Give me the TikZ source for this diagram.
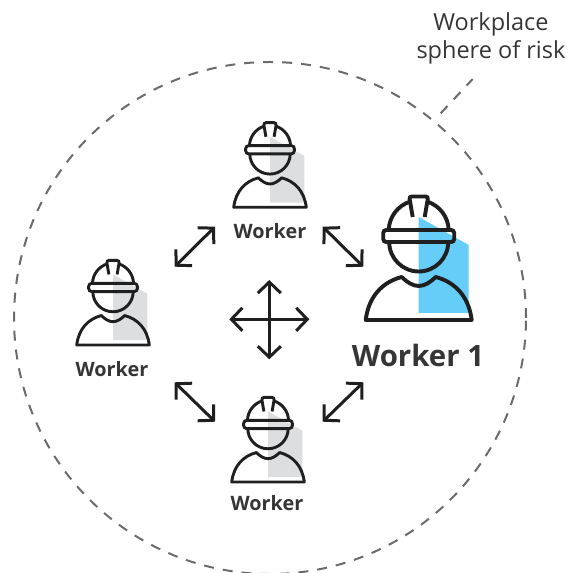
\documentclass[tikz,border=0pt]{standalone}
\usepackage{fontspec}
\setmainfont{Open Sans}
\usepackage{xcolor}
\usetikzlibrary{arrows.meta}
\definecolor{riskblue}{HTML}{66CCF8}
\definecolor{shadegray}{HTML}{DDDEE0}
\definecolor{inkdark}{HTML}{1F1F1F}
\definecolor{riskgray}{HTML}{6B6B6D}
\tikzset{
    pics/worker/.style={code={
        % Sombra
        \fill[#1] (0,103) -- (50,75) -- (50,7) -- (0,7) -- cycle;
        % Ombros
        \draw[line join=round] (-53,0) .. controls (-50,24) and (-36,38) .. (-17,43)
            .. controls (-12,38) and (-6,34) .. (0,34)
            .. controls (6,34) and (12,38) .. (17,43)
            .. controls (36,38) and (50,24) .. (53,0) -- cycle;
        % Cabeca
        \draw (-29.5,78) arc (180:360:29.5);
        % Capacete
        \draw (-30,90) arc (178:108:31);
        \draw (30,90) arc (2:72:31);
        \draw[rounded corners=2.5pt] (-6,103) -- (-9.5,123.5) -- (9.5,123.5) -- (6,103);
        \draw[rounded corners=3pt] (-35.5,78) rectangle (35.5,90);
    }},
    workerlabel/.style={text=inkdark!90, inner sep=0pt},
    link/.style={inkdark, line width=3pt, {Straight Barb[length=11pt,width=23pt,line width=3pt]}-{Straight Barb[length=11pt,width=23pt,line width=3pt]}},
    riskline/.style={riskgray, line width=2pt, dash pattern=on 10pt off 9pt}
}

\begin{document}
\begin{tikzpicture}[x=1pt,y=1pt]
    \useasboundingbox (0,0) rectangle (571,573);
    % Esfera de risco
    \draw[riskline] (270,255) circle (256);
    \coordinate (riskA) at (440.7,459.7);
    \coordinate (riskB) at (472.7,494);
    \draw[riskline] (riskA) -- (riskB);
    \node[text=inkdark!90, align=center, font=\fontsize{23.5}{28}\selectfont, inner sep=0pt] (riskText) at (491,535) {Workplace\\sphere of risk};
    % Trabalhadores
    \pic[scale=1, line width=3.9pt, draw=inkdark] at (418.7,253) {worker=riskblue};
    \pic[scale=.685, line width=2.9pt, draw=inkdark] at (270,365.7) {worker=shadegray};
    \pic[scale=.685, line width=2.9pt, draw=inkdark] at (113,228) {worker=shadegray};
    \pic[scale=.685, line width=2.9pt, draw=inkdark] at (268,91) {worker=shadegray};
    % Legendas
    \node[workerlabel, font=\bfseries\fontsize{29.4}{36}\selectfont] (workerOne) at (418,218) {Worker 1};
    \node[workerlabel, font=\bfseries\fontsize{19.8}{24}\selectfont] (workerTop) at (270,342) {Worker};
    \node[workerlabel, font=\bfseries\fontsize{19.8}{24}\selectfont] (workerLeft) at (112,204) {Worker};
    \node[workerlabel, font=\bfseries\fontsize{19.8}{24}\selectfont] (workerBottom) at (267,70) {Worker};
    % Setas
    \foreach \name/\x/\y in {a/174.7/306.3, b/215/346.3, c/322.7/346.3, d/363.3/306.3,
                             e/174.7/190.7, f/215/151.3, g/322.7/151.3, h/363.3/190.7,
                             i/229.3/253.7, j/309.3/253.7, k/269.3/293, l/269.3/213.7} {
        \coordinate (\name) at (\x,\y);
    }
    \foreach \from/\to in {a/b, c/d, e/f, g/h, i/j, k/l} {
        \draw[link] (\from) -- (\to);
    }
\end{tikzpicture}
\end{document}
